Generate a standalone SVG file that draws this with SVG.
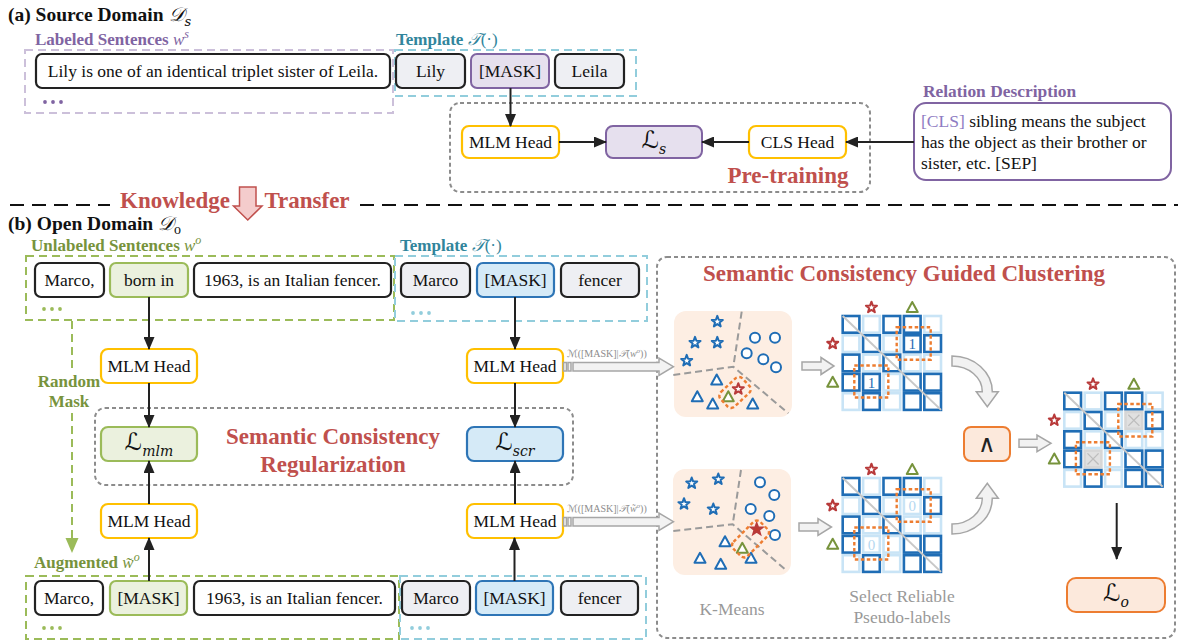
<svg xmlns="http://www.w3.org/2000/svg" width="1178" height="642" viewBox="0 0 1178 642" font-family="'Liberation Serif', 'Times New Roman', serif">
<style>
text, tspan {font-family:'Liberation Serif', 'Times New Roman', serif}
.t{font-size:17.5px;fill:#111;text-anchor:middle}
.b{font-weight:bold}
.box{fill:#fff;stroke:#222;stroke-width:2.2}
.gbox{fill:#eeeff3;stroke:#222;stroke-width:2.2}
.head{fill:#fff;stroke:#ffc000;stroke-width:2.2}
.pur{fill:#e6e0ee;stroke:#8064a2;stroke-width:2}
.grn{fill:#ebf1de;stroke:#9bbb59;stroke-width:2.2}
.blu{fill:#d5eaf7;stroke:#2e75b6;stroke-width:2.2}
.org{fill:#fce9dc;stroke:#ed7d31;stroke-width:2}
.dg{fill:none;stroke:#8c8c8c;stroke-width:2;stroke-dasharray:4 3}
.dp{fill:none;stroke:#ccc0da;stroke-width:2;stroke-dasharray:8 5}
.dc{fill:none;stroke:#92cddc;stroke-width:2;stroke-dasharray:8 5}
.dgr{fill:none;stroke:#9bbb59;stroke-width:2;stroke-dasharray:8 5}
.arr{stroke:#222;stroke-width:2;fill:none;marker-end:url(#ah)}
.hol{fill:#f2f2f2;stroke:#a6a6a6;stroke-width:1.5}
.red{fill:#c0504d;font-weight:bold;text-anchor:middle}
.cd{fill:#fff;stroke:#1f6db5;stroke-width:2.6}
.cl{fill:#fff;stroke:#c9e4f6;stroke-width:2.6}
.ob{fill:none;stroke:#ed7d31;stroke-width:2.4;stroke-dasharray:3.5 2.5}
.sb{fill:#fff;stroke:#1f6db5;stroke-width:2;stroke-linejoin:round}
.sr{fill:#fff;stroke:#b83a3a;stroke-width:2;stroke-linejoin:round}
.sg{fill:#fff;stroke:#77933c;stroke-width:2;stroke-linejoin:round}
.kl{fill:none;stroke:#9a9a9a;stroke-width:2;stroke-dasharray:7 4}
tspan.m, text.m{font-family:'DejaVu Serif', 'DejaVu Sans', serif;font-style:italic}
text.op{font-family:'DejaVu Sans', sans-serif;font-weight:200}
.gr{fill:#999;font-size:17.5px;text-anchor:middle}
</style>
<defs>
<marker id="ah" markerWidth="13" markerHeight="11" refX="12" refY="5.5" orient="auto" markerUnits="userSpaceOnUse"><path d="M0,0 L13,5.5 L0,11 Z" fill="#222"/></marker>
<path id="star" d="M0,-5.8 L1.41,-1.94 L5.52,-1.79 L2.28,0.74 L3.41,4.69 L0,2.4 L-3.41,4.69 L-2.28,0.74 L-5.52,-1.79 L-1.41,-1.94 Z"/>
<path id="tri" d="M0,-5.5 L5.5,4.5 L-5.5,4.5 Z"/>
<circle id="cir" r="5"/>
<g id="mat">
<rect class="cd" x="0" y="0" width="16.7" height="16.7"/><rect class="cl" x="20.4" y="0" width="16.7" height="16.7"/><rect class="cd" x="40.8" y="0" width="16.7" height="16.7"/><rect class="cd" x="61.2" y="0" width="16.7" height="16.7"/><rect class="cl" x="81.6" y="0" width="16.7" height="16.7"/>
<rect class="cl" x="0" y="19.3" width="16.7" height="16.7"/><rect class="cd" x="20.4" y="19.3" width="16.7" height="16.7"/><rect class="cl" x="40.8" y="19.3" width="16.7" height="16.7"/><rect class="cd" x="81.6" y="19.3" width="16.7" height="16.7"/>
<rect class="cd" x="0" y="38.6" width="16.7" height="16.7"/><rect class="cl" x="20.4" y="38.6" width="16.7" height="16.7"/><rect class="cd" x="40.8" y="38.6" width="16.7" height="16.7"/><rect class="cl" x="61.2" y="38.6" width="16.7" height="16.7"/><rect class="cl" x="81.6" y="38.6" width="16.7" height="16.7"/>
<rect class="cd" x="0" y="57.9" width="16.7" height="16.7"/><rect class="cl" x="40.8" y="57.9" width="16.7" height="16.7"/><rect class="cd" x="61.2" y="57.9" width="16.7" height="16.7"/><rect class="cd" x="81.6" y="57.9" width="16.7" height="16.7"/>
<rect class="cl" x="0" y="77.2" width="16.7" height="16.7"/><rect class="cd" x="20.4" y="77.2" width="16.7" height="16.7"/><rect class="cl" x="40.8" y="77.2" width="16.7" height="16.7"/><rect class="cd" x="61.2" y="77.2" width="16.7" height="16.7"/><rect class="cd" x="81.6" y="77.2" width="16.7" height="16.7"/>
<use href="#star" x="28.75" y="-8.5" class="sr"/><use href="#tri" x="69.55" y="-8.5" class="sg"/>
<use href="#star" x="-10" y="27.65" class="sr"/><use href="#tri" x="-10" y="66.25" class="sg"/>
</g>
<g id="ovl">
<line x1="0" y1="0" x2="98.3" y2="93.9" stroke="#c8c8c8" stroke-width="2"/>
<rect class="ob" x="54" y="11.3" width="34" height="32.5"/>
<rect class="ob" x="11.6" y="49.5" width="34" height="32"/>
</g>
</defs>

<rect width="1178" height="642" fill="#fff"/>

<g id="title-a"><text x="8" y="21" font-size="19.5" class="b" fill="#111">(a) Source Domain <tspan class="m" font-weight="normal">𝒟</tspan><tspan class="m" font-weight="normal" font-size="13" dy="5">s</tspan></text></g>

<g id="labeled-sentences">
<text x="35" y="45" font-size="17" class="b" fill="#8064a2">Labeled Sentences <tspan font-style="italic" font-weight="normal">w</tspan><tspan font-style="italic" font-weight="normal" font-size="12" dy="-7">s</tspan></text>
<rect class="dp" x="25" y="50" width="368" height="63"/>
<rect class="box" x="36" y="54" width="354" height="34" rx="6"/>
<text x="213" y="77" class="t">Lily is one of an identical triplet sister of Leila.</text>
<g fill="#8064a2"><circle cx="45" cy="102" r="1.9"/><circle cx="53" cy="102" r="1.9"/><circle cx="61" cy="102" r="1.9"/></g>
</g>

<g id="template-a">
<text x="396" y="45" font-size="17" class="b" fill="#31859c">Template <tspan class="m" font-weight="normal">𝒯</tspan><tspan font-weight="normal">(·)</tspan></text>
<rect class="dc" x="395" y="50" width="241" height="46"/>
<rect class="gbox" x="396" y="54" width="69" height="34" rx="6"/><text x="430.5" y="77" class="t">Lily</text>
<rect class="pur" x="471" y="54" width="78" height="34" rx="6"/><text x="510" y="77" class="t">[MASK]</text>
<rect class="gbox" x="555" y="54" width="69" height="34" rx="6"/><text x="589.5" y="77" class="t">Leila</text>
</g>

<g id="pretraining">
<rect class="dg" x="450" y="103" width="420" height="89" rx="10"/>
<text x="788" y="183" font-size="23" class="red">Pre-training</text>
</g>
<g id="mlm-head-a"><rect class="head" x="462" y="126" width="97" height="32" rx="7"/><text x="510.5" y="148" class="t">MLM Head</text></g>
<g id="loss-s"><rect class="pur" x="606" y="126" width="96" height="32" rx="7"/><text x="654" y="148" class="t"><tspan class="m" font-size="24">ℒ</tspan><tspan class="m" font-size="14" dy="6">s</tspan></text></g>
<g id="cls-head"><rect class="head" x="749" y="126" width="97" height="32" rx="7"/><text x="797.5" y="148" class="t">CLS Head</text></g>

<g id="relation-description">
<text x="923" y="97" font-size="17.4" class="b" fill="#8064a2">Relation Description</text>
<rect x="914" y="103" width="257" height="77" rx="12" fill="#fff" stroke="#8064a2" stroke-width="2"/>
<text x="921" y="127" font-size="17.5" fill="#111"><tspan fill="#8e7cc3">[CLS]</tspan> sibling means the subject</text>
<text x="921" y="148" font-size="17.5" fill="#111">has the object as their brother or</text>
<text x="921" y="169" font-size="17.5" fill="#111">sister, etc. [SEP]</text>
</g>

<g id="knowledge-transfer">
<line x1="10" y1="205" x2="110" y2="205" stroke="#111" stroke-width="2" stroke-dasharray="14 8"/>
<line x1="360" y1="205" x2="1178" y2="205" stroke="#111" stroke-width="2" stroke-dasharray="14 8"/>
<text x="175" y="208" font-size="23" class="red">Knowledge</text>
<path d="M239.5,187 H256 V206 H262 L247.75,220 L233.5,206 H239.5 Z" fill="#f4cccc" stroke="#c0504d" stroke-width="1.5"/>
<text x="307" y="208" font-size="23" class="red">Transfer</text>
</g>

<g id="title-b"><text x="8" y="230" font-size="19.5" class="b" fill="#111">(b) Open Domain <tspan class="m" font-weight="normal">𝒟</tspan><tspan font-weight="normal" font-size="14" dy="4">o</tspan></text></g>

<g id="unlabeled-sentences">
<text x="31" y="251" font-size="17" class="b" fill="#77933c">Unlabeled Sentences <tspan font-style="italic" font-weight="normal">w</tspan><tspan font-style="italic" font-weight="normal" font-size="12" dy="-7">o</tspan></text>
<rect class="dgr" x="26" y="256" width="368" height="64"/>
<rect class="box" x="35" y="263" width="69" height="34" rx="6"/><text x="69.5" y="286" class="t">Marco,</text>
<rect class="grn" x="110" y="263" width="78" height="34" rx="6"/><text x="149" y="286" class="t">born in</text>
<rect class="box" x="194" y="263" width="197" height="34" rx="6"/><text x="292.5" y="286" class="t">1963, is an Italian fencer.</text>
<g fill="#9bbb59"><circle cx="44" cy="309" r="1.9"/><circle cx="52" cy="309" r="1.9"/><circle cx="60" cy="309" r="1.9"/></g>
</g>

<g id="template-b">
<text x="400" y="251" font-size="17" class="b" fill="#31859c">Template <tspan class="m" font-weight="normal">𝒯</tspan><tspan font-weight="normal">(·)</tspan></text>
<rect class="dc" x="395" y="256" width="252" height="65"/>
<rect class="gbox" x="401" y="263" width="69" height="34" rx="6"/><text x="435.5" y="286" class="t">Marco</text>
<rect class="blu" x="477" y="263" width="77" height="34" rx="6"/><text x="515.5" y="286" class="t">[MASK]</text>
<rect class="gbox" x="561" y="263" width="78" height="34" rx="6"/><text x="600" y="286" class="t">fencer</text>
<g fill="#92cddc"><circle cx="413" cy="313" r="1.9"/><circle cx="421" cy="313" r="1.9"/><circle cx="429" cy="313" r="1.9"/></g>
</g>

<g id="mlm-head-b1"><rect class="head" x="101" y="349" width="96" height="34" rx="7"/><text x="149" y="372" class="t">MLM Head</text></g>
<g id="mlm-head-b2"><rect class="head" x="467" y="349" width="96" height="34" rx="7"/><text x="515" y="372" class="t">MLM Head</text></g>

<g id="random-mask">
<text x="69" y="387" font-size="17" class="b" fill="#77933c" text-anchor="middle">Random</text>
<text x="69" y="407" font-size="17" class="b" fill="#77933c" text-anchor="middle">Mask</text>
</g>

<g id="scr-region">
<rect class="dg" x="95" y="408" width="478" height="77" rx="10"/>
<text x="333" y="444" font-size="23" class="red">Semantic Consistency</text>
<text x="333" y="472" font-size="23" class="red">Regularization</text>
</g>
<g id="loss-mlm"><rect class="grn" x="101" y="427" width="96" height="34" rx="7"/><text x="149" y="450" class="t"><tspan class="m" font-size="24">ℒ</tspan><tspan class="m" font-size="14" dy="6">mlm</tspan></text></g>
<g id="loss-scr"><rect class="blu" x="467" y="427" width="96" height="34" rx="7"/><text x="515" y="450" class="t"><tspan class="m" font-size="24">ℒ</tspan><tspan class="m" font-size="14" dy="6">scr</tspan></text></g>

<g id="mlm-head-b3"><rect class="head" x="101" y="504" width="96" height="34" rx="7"/><text x="149" y="527" class="t">MLM Head</text></g>
<g id="mlm-head-b4"><rect class="head" x="467" y="504" width="96" height="34" rx="7"/><text x="515" y="527" class="t">MLM Head</text></g>

<g id="augmented-sentences">
<text x="34" y="568" font-size="17" class="b" fill="#77933c">Augmented <tspan font-style="italic" font-weight="normal">w̃</tspan><tspan font-style="italic" font-weight="normal" font-size="12" dy="-7">o</tspan></text>
<rect class="dgr" x="26" y="576" width="373" height="63"/>
<rect class="box" x="35" y="581" width="68" height="34" rx="6"/><text x="69" y="604" class="t">Marco,</text>
<rect class="grn" x="110" y="581" width="77" height="34" rx="6"/><text x="148.5" y="604" class="t">[MASK]</text>
<rect class="box" x="194" y="581" width="201" height="34" rx="6"/><text x="294.5" y="604" class="t">1963, is an Italian fencer.</text>
<g fill="#9bbb59"><circle cx="44" cy="628" r="1.9"/><circle cx="52" cy="628" r="1.9"/><circle cx="60" cy="628" r="1.9"/></g>
</g>
<g id="template-b-aug">
<rect class="dc" x="400" y="576" width="246" height="63"/>
<rect class="gbox" x="402" y="581" width="68" height="34" rx="6"/><text x="436" y="604" class="t">Marco</text>
<rect class="blu" x="476" y="581" width="77" height="34" rx="6"/><text x="514.5" y="604" class="t">[MASK]</text>
<rect class="gbox" x="561" y="581" width="77" height="34" rx="6"/><text x="599.5" y="604" class="t">fencer</text>
<g fill="#92cddc"><circle cx="412" cy="628" r="1.9"/><circle cx="420" cy="628" r="1.9"/><circle cx="428" cy="628" r="1.9"/></g>
</g>

<g id="clustering">
<rect class="dg" x="657" y="257" width="518" height="381" rx="10"/>
<text x="904" y="281" font-size="23" class="red">Semantic Consistency Guided Clustering</text>
</g>

<g id="kmeans-top">
<rect x="674" y="311" width="118" height="106" rx="12" fill="#fdeee3"/>
<path class="kl" d="M741.7,311.7 L733.3,366.7 M673.3,375 L733.3,366.7 L788.3,413.3"/>
<use href="#star" x="717.3" y="321.7" class="sb"/><use href="#star" x="695" y="342.7" class="sb"/><use href="#star" x="717.3" y="342.7" class="sb"/><use href="#star" x="686.7" y="360.7" class="sb"/>
<use href="#cir" x="755" y="337.7" class="sb"/><use href="#cir" x="775" y="337.7" class="sb"/><use href="#cir" x="746.7" y="353.3" class="sb"/><use href="#cir" x="763.3" y="359.3" class="sb"/><use href="#cir" x="776" y="367.3" class="sb"/>
<use href="#tri" x="716.7" y="380" class="sb"/><use href="#tri" x="697.3" y="396.7" class="sb"/><use href="#tri" x="712.7" y="404" class="sb"/><use href="#tri" x="752.7" y="404" class="sb"/>
<use href="#star" x="738.3" y="389" class="sr"/><use href="#tri" x="728.3" y="396.7" class="sg"/>
<rect class="ob" x="-15" y="-10" width="30" height="20" rx="5" transform="translate(735 392.5) rotate(-43)"/>
</g>

<g id="kmeans-bottom">
<rect x="673" y="469" width="118" height="106" rx="12" fill="#fdeee3"/>
<path class="kl" d="M741,470 L732.7,524.3 M673.3,531 L732.7,524.3 L786.7,570.7"/>
<use href="#star" x="691.7" y="483.3" class="sb"/><use href="#star" x="718.3" y="479.3" class="sb"/><use href="#star" x="684" y="504" class="sb"/><use href="#star" x="713.3" y="509.3" class="sb"/>
<use href="#cir" x="760" y="482.3" class="sb"/><use href="#cir" x="774.3" y="495" class="sb"/><use href="#cir" x="750.7" y="509" class="sb"/><use href="#cir" x="769.3" y="516" class="sb"/><use href="#cir" x="775" y="535" class="sb"/>
<use href="#tri" x="725" y="541.7" class="sb"/><use href="#tri" x="700" y="558.3" class="sb"/><use href="#tri" x="720.7" y="564.3" class="sb"/><use href="#tri" x="751" y="558.3" class="sb"/>
<use href="#star" x="756.7" y="529.3" fill="#c0392b" stroke="#b83a3a" stroke-width="2"/><use href="#tri" x="742.3" y="548.3" class="sg"/>
<rect class="ob" x="-19" y="-10" width="38" height="20" rx="5" transform="translate(750.5 539) rotate(-45)"/>
<text x="732" y="615" class="gr">K-Means</text>
</g>

<g id="matrix-top" transform="translate(842.7 316)">
<use href="#mat"/>
<rect class="cd" x="61.2" y="19.3" width="16.7" height="16.7"/><text x="69.55" y="33" font-size="15" fill="#1f6db5" text-anchor="middle">1</text>
<rect class="cd" x="20.4" y="57.9" width="16.7" height="16.7"/><text x="28.75" y="71.6" font-size="15" fill="#1f6db5" text-anchor="middle">1</text>
<use href="#ovl"/>
</g>

<g id="matrix-bottom" transform="translate(842.7 478)">
<use href="#mat"/>
<rect class="cl" x="61.2" y="19.3" width="16.7" height="16.7"/><text x="69.55" y="33" font-size="15" fill="#b5d8f0" text-anchor="middle">0</text>
<rect class="cl" x="20.4" y="57.9" width="16.7" height="16.7"/><text x="28.75" y="71.6" font-size="15" fill="#b5d8f0" text-anchor="middle">0</text>
<use href="#ovl"/>
</g>
<g id="select-label">
<text x="902" y="602" class="gr">Select Reliable</text>
<text x="902" y="623" class="gr">Pseudo-labels</text>
</g>

<g id="and-op"><rect class="org" x="964" y="427" width="46" height="34" rx="7"/><text x="987" y="452" font-size="24" fill="#222" text-anchor="middle" class="op">∧</text></g>

<g id="matrix-result" transform="translate(1064.3 392.7)">
<use href="#mat"/>
<g stroke="#d6d6d6" stroke-width="2.6" fill="#e0e0e0"><rect x="61.2" y="19.3" width="16.7" height="16.7"/><rect x="20.4" y="57.9" width="16.7" height="16.7"/></g>
<path d="M64,22 L75.1,33.2 M75.1,22 L64,33.2 M23.2,60.7 L34.3,71.8 M34.3,60.7 L23.2,71.8" stroke="#bdbdbd" stroke-width="1.3"/>
<use href="#ovl"/>
</g>

<g id="loss-o"><rect class="org" x="1067" y="578" width="98" height="34" rx="9"/><text x="1116" y="601" class="t"><tspan class="m" font-size="24">ℒ</tspan><tspan class="m" font-size="14" dy="6">o</tspan></text></g>

<g id="connectors">
<line class="arr" x1="510.5" y1="88" x2="510.5" y2="126"/>
<line class="arr" x1="559" y1="142" x2="606" y2="142"/>
<line class="arr" x1="749" y1="142" x2="702" y2="142"/>
<line class="arr" x1="914" y1="142" x2="846" y2="142"/>
<line class="arr" x1="149" y1="297" x2="149" y2="349"/>
<line class="arr" x1="149" y1="383" x2="149" y2="427"/>
<line class="arr" x1="149" y1="504" x2="149" y2="461"/>
<line class="arr" x1="149" y1="581" x2="149" y2="538"/>
<line class="arr" x1="515" y1="297" x2="515" y2="349"/>
<line class="arr" x1="515" y1="383" x2="515" y2="427"/>
<line class="arr" x1="515" y1="504" x2="515" y2="461"/>
<line class="arr" x1="514.5" y1="581" x2="514.5" y2="538"/>
<line class="arr" x1="1116.7" y1="503" x2="1116.7" y2="559"/>
<path d="M72,321 V370 M72,413 V540" fill="none" stroke="#9bbb59" stroke-width="2" stroke-dasharray="8 5"/>
<path d="M65.5,538 H78.5 L72,553 Z" fill="#9bbb59"/>
<g id="mlm-to-cluster-1">
<rect class="hol" x="563.5" y="362.5" width="3" height="8.5"/><rect class="hol" x="568" y="362.5" width="3" height="8.5"/>
<path class="hol" d="M573,362.5 H659 V358 L673.5,366.7 L659,375.5 V371 H573 Z"/>
<text x="567" y="357" font-size="10" fill="#8c8c8c"><tspan class="m">ℳ</tspan>([MASK]|<tspan class="m">𝒯</tspan>(<tspan font-style="italic">w</tspan><tspan font-style="italic" font-size="7" dy="-4">o</tspan><tspan dy="4">))</tspan></text>
</g>
<g id="mlm-to-cluster-2">
<rect class="hol" x="563.5" y="517.5" width="3" height="8.5"/><rect class="hol" x="568" y="517.5" width="3" height="8.5"/>
<path class="hol" d="M573,517.5 H659 V513 L673.5,521.7 L659,530.5 V526 H573 Z"/>
<text x="567" y="512" font-size="10" fill="#8c8c8c"><tspan class="m">ℳ</tspan>([MASK]|<tspan class="m">𝒯</tspan>(<tspan font-style="italic">w̃</tspan><tspan font-style="italic" font-size="7" dy="-4">o</tspan><tspan dy="4">))</tspan></text>
</g>
<path class="hol" d="M802,362 H821 V357.5 L834,366 L821,374.5 V370 H802 Z"/>
<path class="hol" d="M799,523 H818 V518.5 L831.5,527 L818,535.5 V531 H799 Z"/>
<path class="hol" d="M1019,439.3 H1037 V435 L1051,443.3 L1037,451.6 V447.3 H1019 Z"/>
<path class="hol" d="M952,356 A40.3,35.7 0 0 1 992.3,391.7 L998.3,391.7 L987.3,406.7 L976.3,391.7 L982.3,391.7 A30.3,25.7 0 0 0 952,366 Z"/>
<path class="hol" d="M952,534 A40.3,35.7 0 0 0 992.3,498.3 L998.3,498.3 L987.3,483.3 L976.3,498.3 L982.3,498.3 A30.3,25.7 0 0 1 952,524 Z"/>
</g>
</svg>
